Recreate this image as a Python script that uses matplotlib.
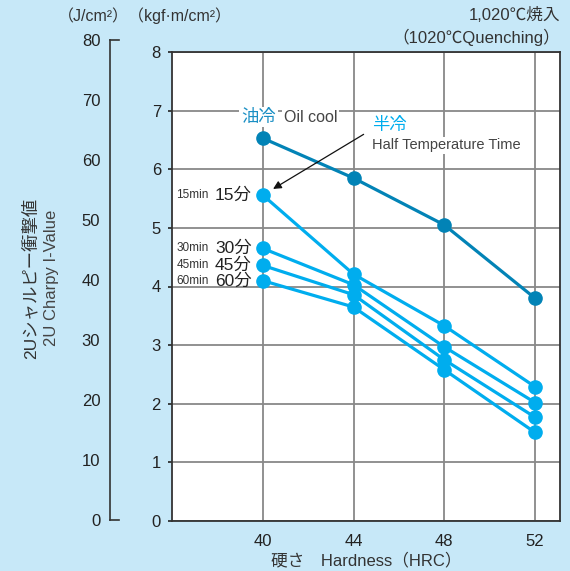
import matplotlib
matplotlib.use("Agg")
import matplotlib.pyplot as plt

plt.rcParams['font.family'] = ['Liberation Sans', 'Noto Sans CJK JP', 'DejaVu Sans']

hardness = [40, 44, 48, 52]
oil_cool = [6.53, 5.85, 5.05, 3.80]
half_15 = [5.56, 4.21, 3.33, 2.29]
half_30 = [4.65, 4.03, 2.97, 2.02]
half_45 = [4.36, 3.86, 2.75, 1.77]
half_60 = [4.10, 3.65, 2.58, 1.51]
half_series = [("15min", "15分", half_15), ("30min", "30分", half_30),
               ("45min", "45分", half_45), ("60min", "60分", half_60)]
kgf_ticks = [0, 1, 2, 3, 4, 5, 6, 7, 8]
joule_ticks = [0, 10, 20, 30, 40, 50, 60, 70, 80]

W, H = 570, 571
BG = '#c7e8f8'
OIL = '#0283b6'
HALF = '#00adee'
TXT = '#222222'
GRID = '#888888'

fig = plt.figure(figsize=(W / 100, H / 100), dpi=100, facecolor=BG)

def px(x0, y0, x1, y1):
    return [x0 / W, 1 - y1 / H, (x1 - x0) / W, (y1 - y0) / H]

ax = fig.add_axes(px(172, 52, 560, 521))
ax.set_facecolor('white')
ax.set_xlim(36, 53.1)
ax.set_ylim(0, 8)
ax.set_xticks(hardness)
ax.set_yticks(kgf_ticks)
ax.grid(True, color=GRID, lw=1.3)
ax.set_axisbelow(True)
for s in ax.spines.values():
    s.set_color('#333333')
    s.set_linewidth(1.3)
ax.tick_params(axis='x', length=0, pad=9, labelsize=12, colors=TXT)
ax.tick_params(axis='y', length=3, width=1.2, pad=5, labelsize=12, colors=TXT, direction='out')

ax.plot(hardness, oil_cool, color=OIL, lw=2.3, marker='o', ms=9.5, zorder=4)
for small, big, vals in half_series:
    ax.plot(hardness, vals, color=HALF, lw=2.3, marker='o', ms=9.5, zorder=3)
    ax.annotate(big, xy=(hardness[0], vals[0]), xytext=(-8, 0), textcoords='offset points',
                ha='right', va='center', fontsize=12.5, color=TXT)
    ax.annotate(small, xy=(hardness[0], vals[0]), xytext=(-39, 0), textcoords='offset points',
                ha='right', va='center', fontsize=8.5, color='#333333')

# Oil cool label
ax.text(39.05, 6.89, "油冷", fontsize=12.5, color='#1a8fc4', ha='left', va='center',
        bbox=dict(facecolor='white', edgecolor='none', pad=1.5), zorder=5)
ax.text(40.93, 6.89, "Oil cool", fontsize=11.5, color='#444444', ha='left', va='center',
        bbox=dict(facecolor='white', edgecolor='none', pad=1.5), zorder=5)
# Half cool label
ax.text(44.8, 6.75, "半冷", fontsize=12.5, color=HALF, ha='left', va='center',
        bbox=dict(facecolor='white', edgecolor='none', pad=1), zorder=5)
ax.text(44.8, 6.41, "Half Temperature Time", fontsize=10.5, color='#444444', ha='left', va='center',
        bbox=dict(facecolor='white', edgecolor='none', pad=1), zorder=5)
ax.annotate("", xy=(40.35, 5.64), xytext=(44.55, 6.62),
            arrowprops=dict(arrowstyle='-|>', color='#111111', lw=0.9, mutation_scale=12), zorder=6)

ax.set_xlabel("硬さ　Hardness（HRC）", fontsize=12, color='#333333', labelpad=3)

# Outer J/cm2 axis
ax2 = fig.add_axes(px(110, 40, 119, 520))
ax2.set_facecolor('none')
ax2.set_xlim(0, 1)
ax2.set_ylim(0, 80)
ax2.set_yticks(joule_ticks)
ax2.set_xticks([])
ax2.spines['right'].set_visible(False)
for k in ['left', 'top', 'bottom']:
    ax2.spines[k].set_color('#333333')
    ax2.spines[k].set_linewidth(1.2)
ax2.tick_params(axis='y', length=0, pad=7, labelsize=12, colors=TXT)

fig.text(58 / W, 1 - 16 / H, "（J/cm²）（kgf·m/cm²）", fontsize=11.5, color='#333333',
         ha='left', va='center')
fig.text(560 / W, 1 - 15 / H, "1,020℃焼入", fontsize=12, color='#333333', ha='right', va='center')
fig.text(560 / W, 1 - 37 / H, "（1020℃Quenching）", fontsize=12, color='#333333', ha='right', va='center')

fig.text(30 / W, 1 - 278 / H, "2Uシャルピー衝撃値", fontsize=12.5, color='#333333',
         rotation=90, ha='center', va='center')
fig.text(52 / W, 1 - 278 / H, "2U Charpy I-Value", fontsize=12, color='#444444',
         rotation=90, ha='center', va='center')

fig.savefig("out.png", dpi=100, facecolor=BG)
